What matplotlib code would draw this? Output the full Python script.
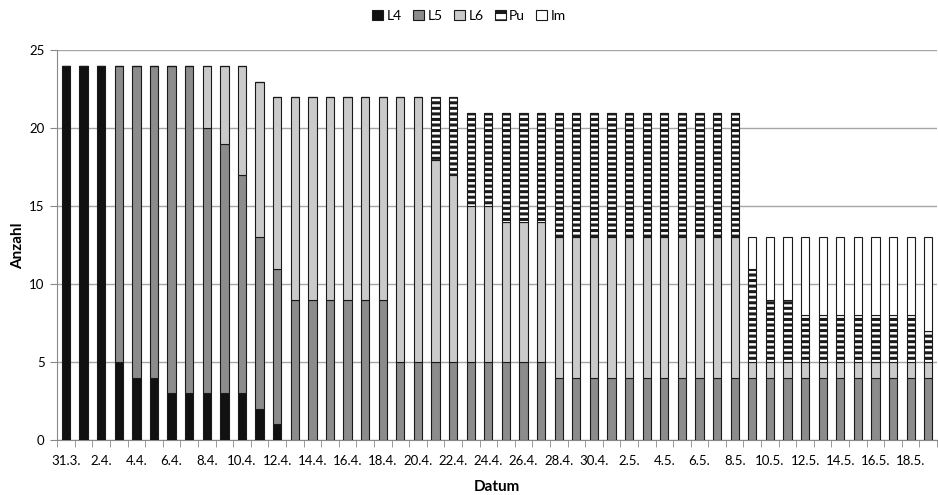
import numpy as np
import matplotlib.pyplot as plt
from matplotlib.patches import Patch

plt.rcParams['font.family'] = ['Lato', 'DejaVu Sans']
plt.rcParams['hatch.linewidth'] = 2.2

# Datum: 31.3. bis 19.5.
datum = ['31.3.'] + [f'{d}.4.' for d in range(1, 31)] + [f'{d}.5.' for d in range(1, 20)]

L4 = [24, 24, 24, 5, 4, 4, 3, 3, 3, 3, 3, 2, 1] + [0] * 37
L5 = [0, 0, 0, 19, 20, 20, 21, 21, 17, 16, 14, 11, 10,
      9, 9, 9, 9, 9, 9, 5, 5, 5, 5, 5, 5, 5, 5, 5] + [4] * 22
L6 = [0, 0, 0, 0, 0, 0, 0, 0, 4, 5, 7, 10, 11,
      13, 13, 13, 13, 13, 13, 17, 17, 13, 12, 10, 10, 9, 9, 9] + [9] * 11 + [1] * 11
Pu = [0] * 21 + [4, 5, 6, 6, 7, 7, 7] + [8] * 11 + [6, 4, 4, 3, 3, 3, 3, 3, 3, 3, 2]
Im = [0] * 39 + [2, 4, 4, 5, 5, 5, 5, 5, 5, 5, 6]

serien = [('L4', L4, '#111111', None),
          ('L5', L5, '#8c8c8c', None),
          ('L6', L6, '#cacaca', None),
          ('Pu', Pu, 'white', '---'),
          ('Im', Im, 'white', None)]

fig = plt.figure(figsize=(9.38, 4.95), dpi=100)
ax = fig.add_axes([0.061, 0.111, 0.938, 0.787])

x = np.arange(len(datum))
unten = np.zeros(len(datum))
for name, werte, farbe, muster in serien:
    werte = np.array(werte, dtype=float)
    ax.bar(x, werte, width=0.47, bottom=unten, color=farbe, edgecolor='#1a1a1a',
           linewidth=0.8, hatch=muster, zorder=3)
    unten += werte

ax.set_xlim(-0.5, len(datum) - 0.5)
ax.set_ylim(0, 25)
ax.set_yticks(range(0, 26, 5))
ax.yaxis.grid(True, color='#a6a6a6', linewidth=1.0, zorder=0)

ax.set_xticks(x[::2])
ax.set_xticklabels(datum[::2], fontsize=9.5)
ax.set_xticks(np.arange(-0.5, len(datum), 1), minor=True)
ax.tick_params(axis='x', which='major', length=0, pad=11)
ax.tick_params(axis='x', which='minor', length=5, color='#888888')
ax.tick_params(axis='y', length=5, color='#888888', labelsize=9.5, pad=4)

for s in ['top', 'right']:
    ax.spines[s].set_visible(False)
for s in ['left', 'bottom']:
    ax.spines[s].set_color('#888888')

ax.set_xlabel('Datum', fontsize=11, fontweight='bold', labelpad=9)
ax.set_ylabel('Anzahl', fontsize=11, fontweight='bold', labelpad=3)

handles = [Patch(facecolor=f, edgecolor='#1a1a1a', hatch=('--' if m else None), linewidth=0.8, label=n)
           for n, _, f, m in serien]
fig.legend(handles=handles, loc='center', bbox_to_anchor=(0.5, 0.968), ncol=5, frameon=False,
           fontsize=10, handlelength=0.8, handleheight=0.8, handletextpad=0.25, columnspacing=0.8)

fig.savefig('out.png', dpi=100)
